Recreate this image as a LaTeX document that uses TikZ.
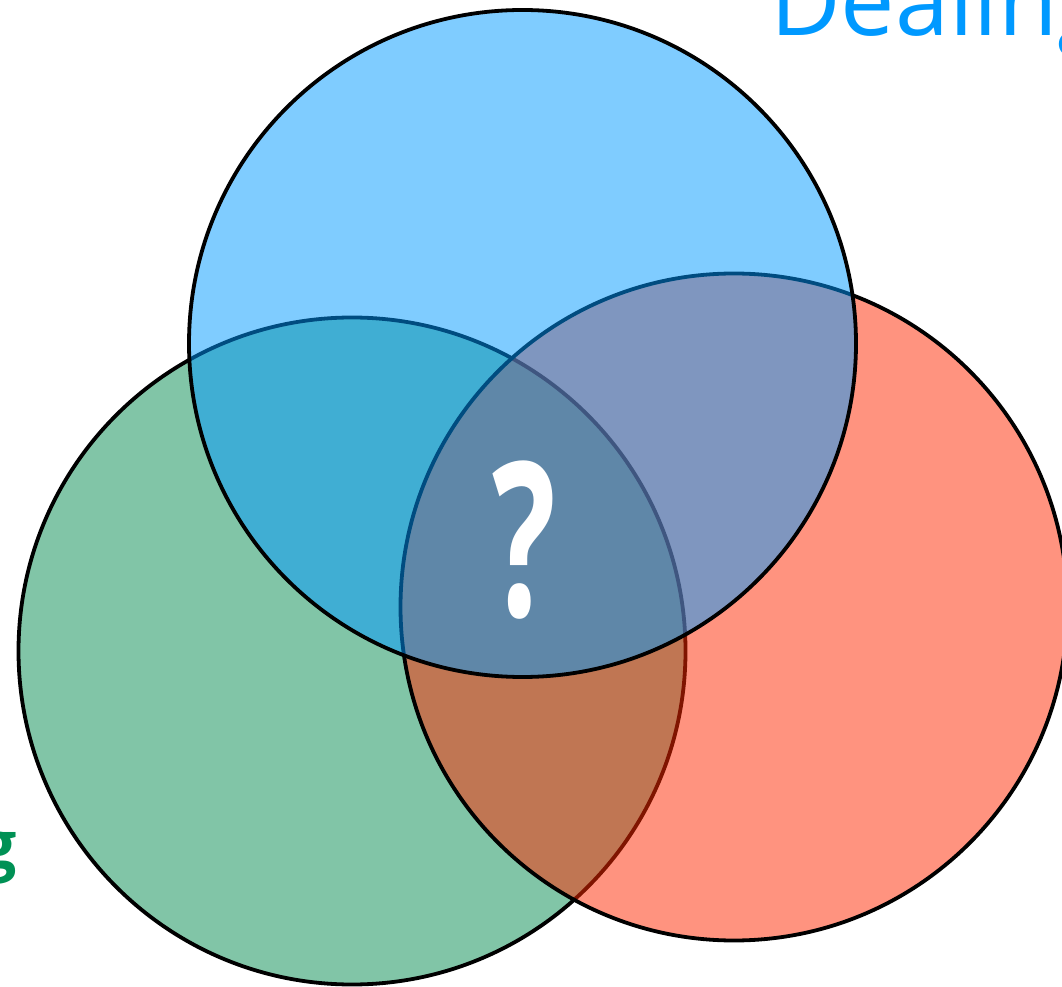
\documentclass[tikz,border=0pt]{standalone}
\usepackage{fontspec}
\setmainfont{Open Sans}
\definecolor{cblue}{RGB}{0,153,255}
\definecolor{cgreen}{RGB}{4,140,80}
\definecolor{cred}{RGB}{255,40,0}
\definecolor{tblue}{RGB}{0,153,255}
\definecolor{tgreen}{RGB}{0,145,85}
\begin{document}
\begin{tikzpicture}[x=1pt,y=1pt,
  venn/.style={circle, draw=black, line width=3.8pt, fill opacity=0.5, inner sep=0pt, minimum size=667pt}]
\useasboundingbox (0,0) rectangle (1062,986);
\clip (0,0) rectangle (1062,986);
\node[venn, fill=cgreen] (green) at (352,335) {};
\node[venn, fill=cred] (red) at (734,379) {};
\node[venn, fill=cblue] (blue) at (522.5,642.5) {};
\node[anchor=base west, text=tblue, font=\fontsize{97}{97}\selectfont, inner sep=0pt] (title) at (770,950) {Dealing};
\node[anchor=base east, text=tgreen, font=\fontsize{66}{66}\selectfont\bfseries, inner sep=0pt] (left) at (17,118) {g};
\node[text=white, font=\fontsize{215}{215}\selectfont\bfseries, inner sep=0pt, xscale=0.62] (q) at (524,446) {?};
\end{tikzpicture}
\end{document}
